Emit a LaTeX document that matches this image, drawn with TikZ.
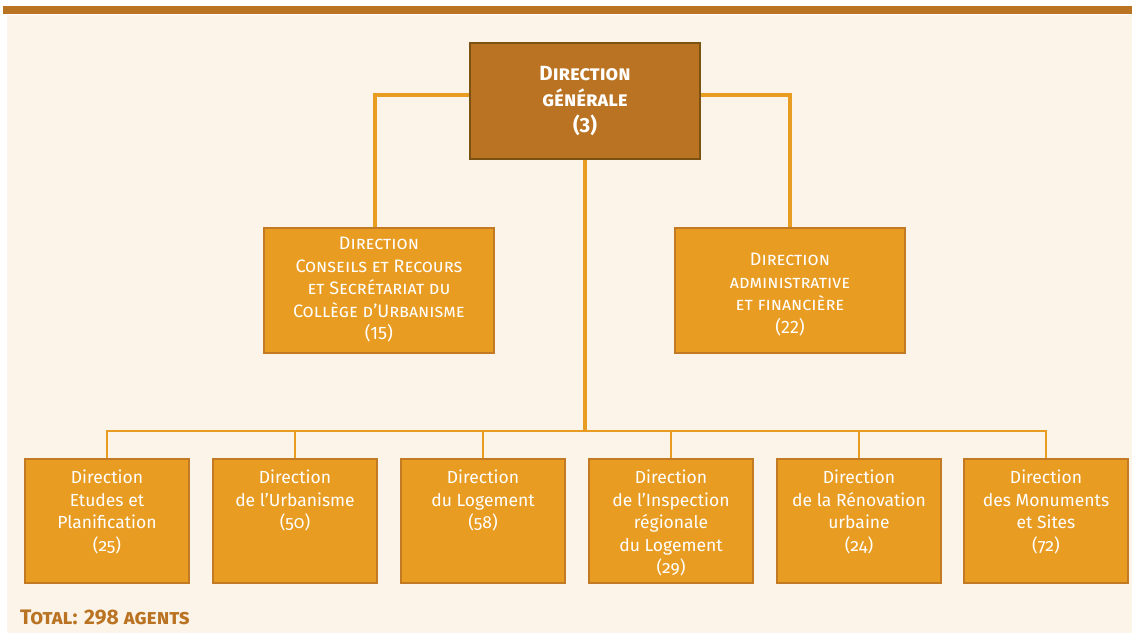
\documentclass[tikz,border=0pt]{standalone}
\usepackage{fontspec}
\setmainfont{Fira Sans}
\definecolor{bar}{HTML}{BA7323}
\definecolor{cream}{HTML}{FCF4E8}
\definecolor{boxfill}{HTML}{E89C22}
\definecolor{boxedge}{HTML}{C27A25}
\definecolor{topedge}{HTML}{7A5212}
\pgfdeclarelayer{back}
\pgfdeclarelayer{lines}
\pgfsetlayers{back,lines,main}
\begin{document}
\begin{tikzpicture}[x=1pt,y=-1pt,
  topbox/.style={draw=topedge,line width=2pt,fill=bar,minimum width=230pt,minimum height=116pt,text=white,align=center,inner sep=0pt,font=\fontsize{20.5}{26}\selectfont\bfseries\scshape},
  midbox/.style={draw=boxedge,line width=2pt,fill=boxfill,minimum width=230pt,minimum height=125pt,inner sep=0pt},
  midtext/.style={text=white,align=center,inner sep=0pt,font=\fontsize{18}{22.5}\selectfont\scshape},
  lowbox/.style={draw=boxedge,line width=2pt,fill=boxfill,minimum width=164pt,minimum height=124pt,inner sep=0pt},
  lowtext/.style={text=white,align=center,anchor=north,inner sep=0pt,font=\fontsize{17.5}{22.5}\selectfont\addfontfeatures{Numbers=OldStyle}},
  thickline/.style={draw=boxfill,line width=4pt},
  thinline/.style={draw=boxfill,line width=2pt}]
\useasboundingbox (0,0) rectangle (1132,633);
\begin{pgfonlayer}{back}
\fill[white] (0,0) rectangle (1132,633);
\fill[cream] (7,15) rectangle (1132,633);
\fill[bar] (3,6) rectangle (1132,14);
\end{pgfonlayer}
% nodes
\node[topbox] (dg) at (585,101) {Direction\\générale\\(3)};
\node[midbox] (dc) at (379,290.5) {};
\node[midbox] (da) at (790,290.5) {};
\node[midtext] (dct) at (379,290) {Direction\\Conseils et Recours\\et Secrétariat du\\Collège d’Urbanisme\\(15)};
\node[midtext] (dat) at (790,294.5) {Direction\\administrative\\et financière\\(22)};
\foreach \n/\x in {b1/107,b2/295,b3/483,b4/671,b5/859,b6/1046}{
  \node[lowbox] (\n) at (\x,521) {};
}
\coordinate (hub) at (dg.south |- 0,431);
\node[lowtext] (t1) at (107,470) {Direction\\Etudes et\\Planification\\(25)};
\node[lowtext] (t2) at (295,470) {Direction\\de l’Urbanisme\\(50)};
\node[lowtext] (t3) at (483,470) {Direction\\du Logement\\(58)};
\node[lowtext] (t4) at (671,470) {Direction\\de l’Inspection\\régionale\\du Logement\\(29)};
\node[lowtext] (t5) at (859,470) {Direction\\de la Rénovation\\urbaine\\(24)};
\node[lowtext] (t6) at (1046,470) {Direction\\des Monuments\\et Sites\\(72)};
\node[anchor=base west,inner sep=0pt,text=bar,font=\fontsize{21}{22}\selectfont\bfseries\scshape] (tot) at (20,624) {Total: 298 agents};
% connectors
\begin{pgfonlayer}{lines}
\draw[thickline] ([yshift=6pt]dg.west) -| ([xshift=-4pt]dc.north);
\draw[thickline] ([yshift=6pt]dg.east) -| (da.north);
\draw[thickline] (dg.south) -- (hub);
\draw[thinline] (b1.north) |- (hub) -| (b6.north);
\foreach \n in {b2,b3,b4,b5}{ \draw[thinline] (\n.north) -- (\n.north |- hub); }
\end{pgfonlayer}
\end{tikzpicture}
\end{document}
